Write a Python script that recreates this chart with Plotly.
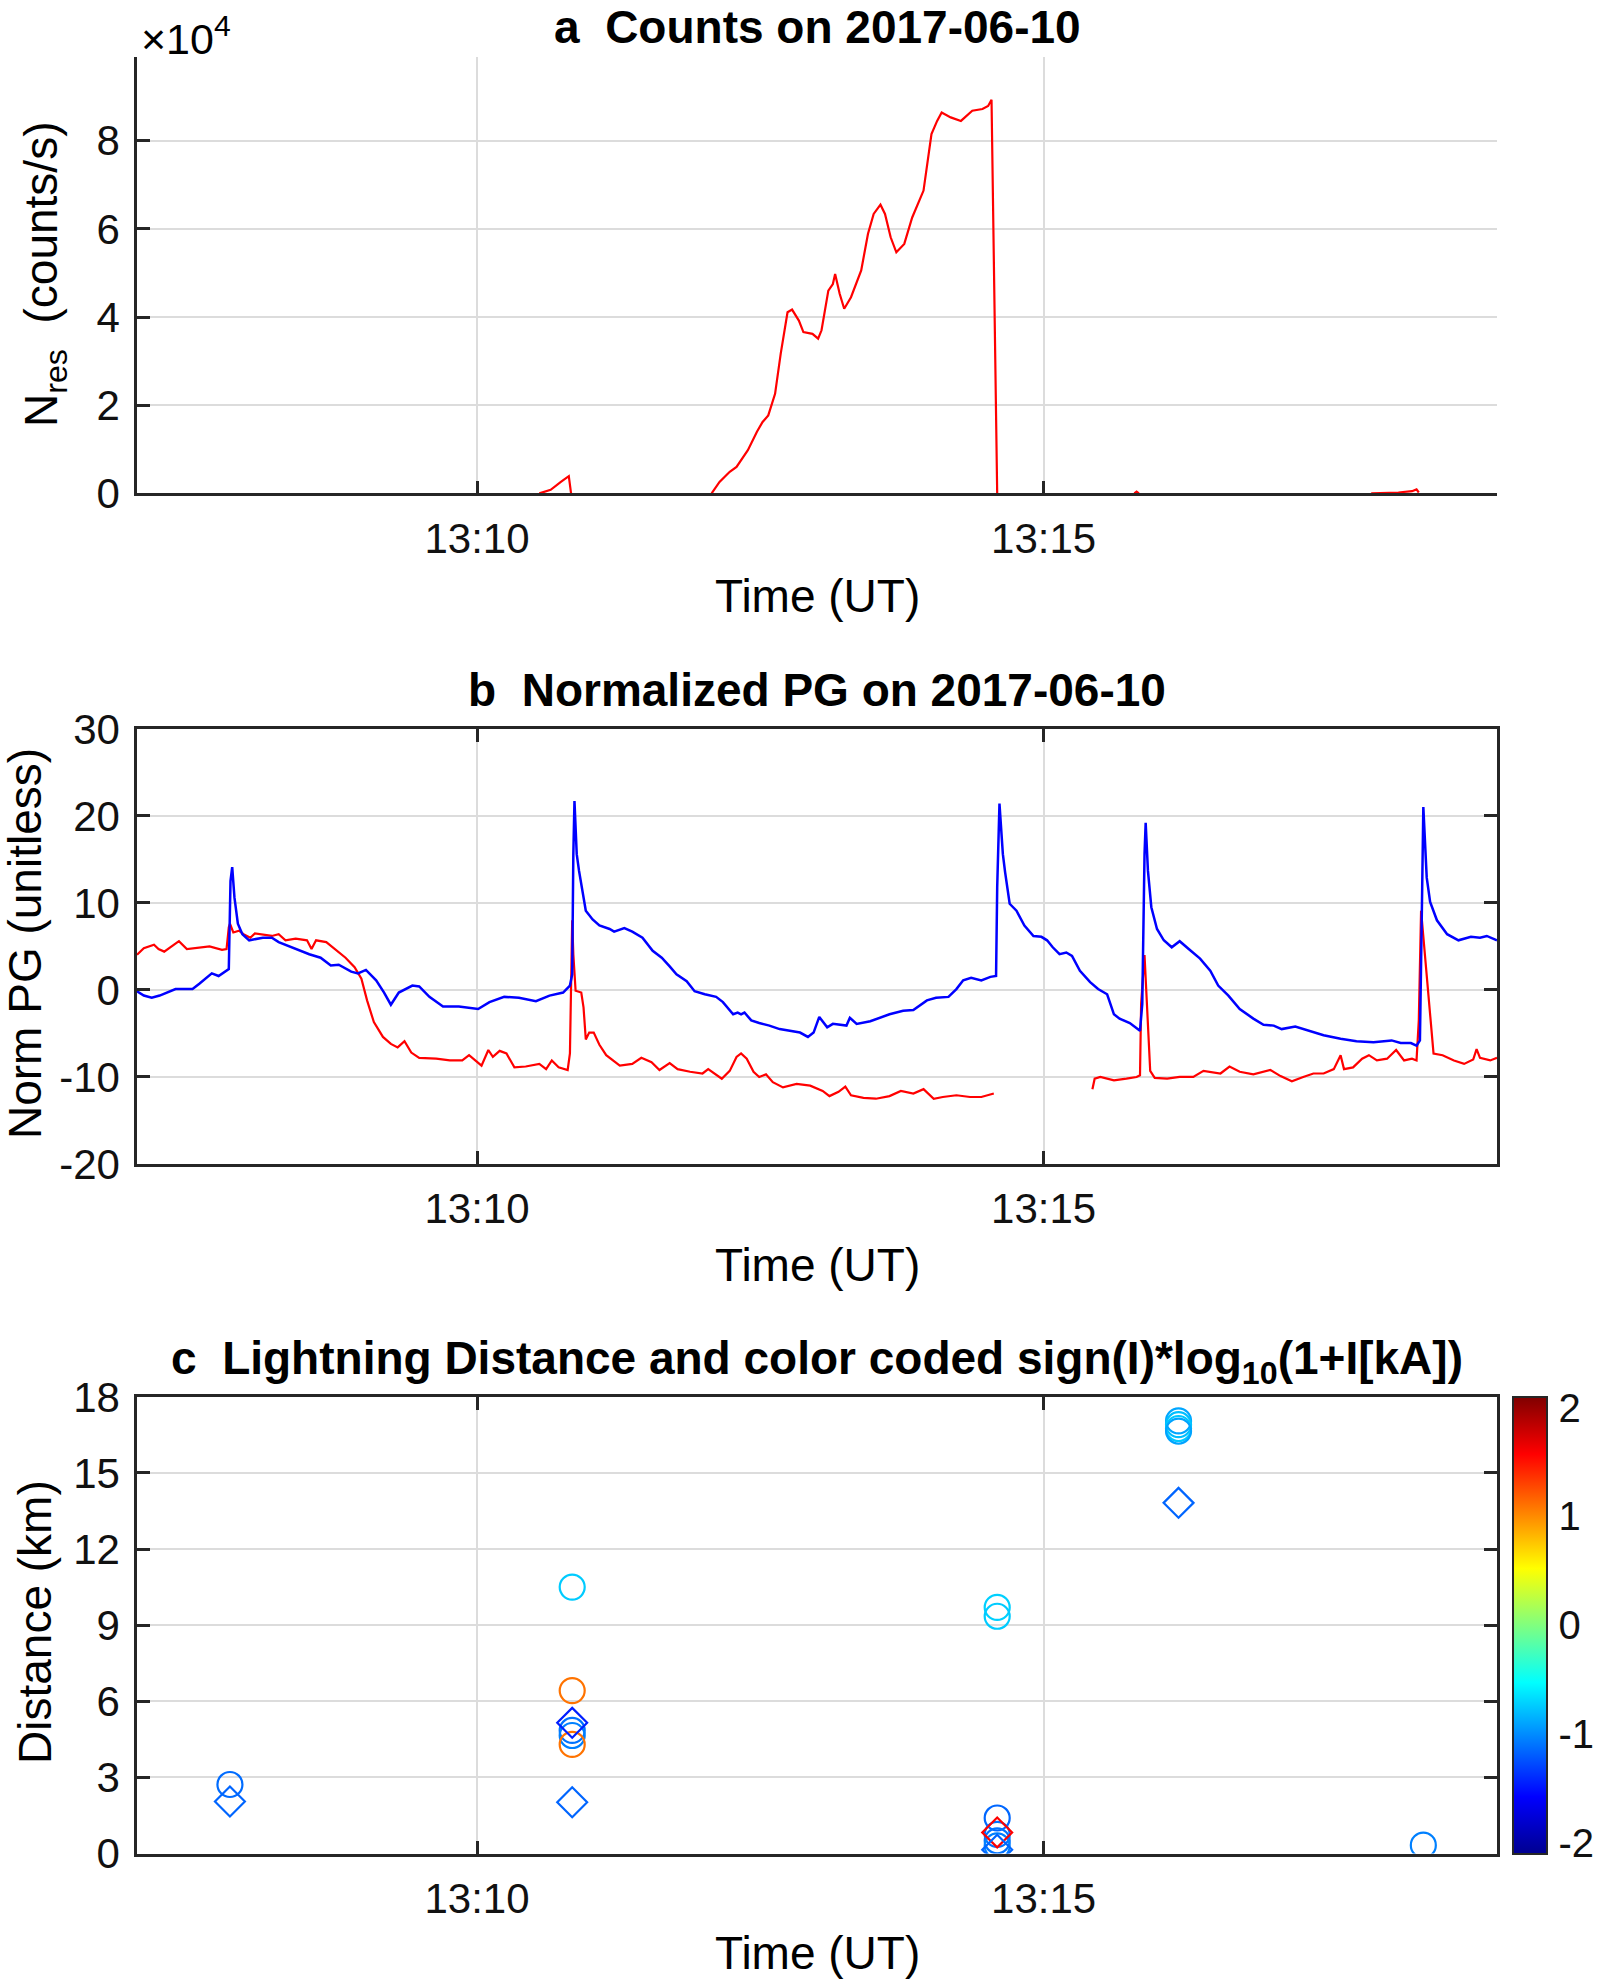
import pandas as pd
import plotly.graph_objects as go

# ---------------- data ----------------
BASE = pd.Timestamp("2017-06-10 13:07:00")

# Panel a: counts (minutes after 13:07:00, counts/s); None = gap
a_min = [3.55, 3.65, 3.74, 3.81, 3.83, None,
         5.07, 5.14, 5.23, 5.29, 5.39, 5.47, 5.52, 5.57, 5.63, 5.68, 5.74, 5.78,
         5.84, 5.88, 5.96, 6.01, 6.04, 6.10, 6.14, 6.16, 6.20, 6.24, 6.30, 6.39,
         6.45, 6.50, 6.56, 6.60, 6.65, 6.70, 6.77, 6.84, 6.94, 7.01, 7.06, 7.10,
         7.18, 7.27, 7.37, 7.46, 7.51, 7.54, 7.59, None,
         8.80, 8.82, 8.84, None,
         10.89, 11.13, 11.25, 11.29, 11.31]
a_counts = [0, 800, 2600, 3900, 0, None,
            0, 2600, 4900, 6000, 9800, 14000, 16200, 17700, 22600, 31700, 41100, 41700,
            39200, 36600, 36200, 35100, 37000, 46000, 47500, 49800, 45300, 41900, 44500, 50600,
            58900, 63400, 65500, 63400, 58100, 54700, 56600, 62600, 68700, 81500, 84500, 86400,
            85300, 84500, 86800, 87200, 87900, 89300, 0, None,
            0, 400, 0, None,
            0, 200, 500, 900, 200]

# Panel b: normalized PG, blue series
b_blue_min = [0.00, 0.06, 0.13, 0.20, 0.34, 0.49, 0.55, 0.66, 0.72, 0.80, 0.81, 0.825, 0.84, 0.86,
              0.89, 0.93, 0.99, 1.11, 1.19, 1.25, 1.37, 1.52, 1.62, 1.71, 1.78, 1.89, 1.95, 2.02,
              2.11, 2.18, 2.24, 2.31, 2.43, 2.49, 2.58, 2.70, 2.84, 3.01, 3.11, 3.24, 3.37, 3.52,
              3.64, 3.76, 3.82, 3.84, 3.85, 3.86, 3.88, 3.90, 3.96, 4.02, 4.08, 4.17, 4.21, 4.30,
              4.37, 4.46, 4.55, 4.63, 4.70, 4.76, 4.85, 4.92, 5.01, 5.11, 5.17, 5.26, 5.30, 5.33,
              5.36, 5.42, 5.49, 5.58, 5.67, 5.76, 5.85, 5.92, 5.97, 6.02, 6.09, 6.14, 6.26, 6.29,
              6.35, 6.47, 6.55, 6.64, 6.76, 6.85, 6.97, 7.05, 7.16, 7.23, 7.29, 7.36, 7.45, 7.53,
              7.58, 7.59, 7.61, 7.64, 7.66, 7.70, 7.76, 7.83, 7.91, 7.98, 8.03, 8.08, 8.14, 8.20,
              8.25, 8.32, 8.41, 8.48, 8.56, 8.62, 8.67, 8.76, 8.85, 8.87, 8.89, 8.90, 8.92, 8.95,
              9.00, 9.06, 9.13, 9.20, 9.28, 9.38, 9.47, 9.54, 9.63, 9.73, 9.85, 9.94, 10.03, 10.10,
              10.22, 10.32, 10.47, 10.62, 10.76, 10.91, 11.07, 11.15, 11.24, 11.29, 11.32, 11.34,
              11.35, 11.38, 11.41, 11.47, 11.56, 11.66, 11.77, 11.85, 11.91, 12.00]
b_blue = [-0.15, -0.65, -0.9, -0.65, 0.1, 0.1, 0.7, 1.9, 1.6, 2.3, 2.4, 12.5, 14.1, 10.6,
          7.6, 6.4, 5.7, 6.0, 6.0, 5.5, 4.9, 4.1, 3.7, 2.8, 2.9, 2.1, 1.9, 2.3,
          1.1, -0.3, -1.7, -0.3, 0.5, 0.4, -0.8, -1.9, -1.9, -2.2, -1.4, -0.8, -0.9, -1.3,
          -0.65, -0.3, 0.5, 1.8, 15.6, 21.7, 15.6, 13.7, 9.1, 8.1, 7.4, 7.0, 6.7, 7.1,
          6.7, 6.0, 4.5, 3.7, 2.7, 1.8, 1.0, -0.15, -0.5, -0.8, -1.4, -2.8, -2.6, -2.8,
          -2.6, -3.5, -3.8, -4.1, -4.5, -4.7, -4.9, -5.4, -4.9, -3.1, -4.3, -3.9, -4.1, -3.2,
          -3.9, -3.6, -3.2, -2.8, -2.4, -2.3, -1.2, -0.9, -0.8, 0.1, 1.1, 1.4, 1.1, 1.5,
          1.6, 11.8, 21.4, 15.6, 13.5, 9.9, 9.1, 7.4, 6.2, 6.1, 5.7, 4.9, 4.1, 4.3,
          3.9, 2.2, 0.9, 0.1, -0.5, -2.8, -3.3, -3.8, -4.7, -1.6, 15.6, 19.2, 13.7, 9.5,
          7.0, 5.7, 4.9, 5.6, 4.7, 3.6, 2.2, 0.5, -0.65, -2.2, -3.3, -4.0, -4.1, -4.5,
          -4.2, -4.6, -5.2, -5.6, -5.9, -6.0, -5.8, -6.1, -6.1, -6.4, -5.8, 11.8,
          21.0, 12.9, 10.1, 8.0, 6.4, 5.7, 6.1, 6.0, 6.2, 5.7]

# Panel b: normalized PG, red series (None = data gap)
b_red_min = [0.00, 0.06, 0.15, 0.19, 0.24, 0.30, 0.37, 0.44, 0.55, 0.64, 0.75, 0.79, 0.81, 0.82,
             0.85, 0.90, 0.94, 1.00, 1.04, 1.10, 1.19, 1.25, 1.31, 1.40, 1.50, 1.54, 1.58, 1.67,
             1.75, 1.84, 1.92, 1.98, 2.03, 2.09, 2.17, 2.24, 2.30, 2.36, 2.42, 2.49, 2.64, 2.76,
             2.87, 2.93, 3.04, 3.10, 3.14, 3.20, 3.26, 3.33, 3.43, 3.55, 3.61, 3.66, 3.72, 3.80,
             3.82, 3.84, 3.85, 3.87, 3.92, 3.94, 3.96, 3.99, 4.03, 4.08, 4.14, 4.26, 4.37, 4.45,
             4.54, 4.61, 4.70, 4.77, 4.88, 4.99, 5.04, 5.16, 5.23, 5.29, 5.33, 5.38, 5.44, 5.49,
             5.55, 5.61, 5.70, 5.82, 5.94, 6.05, 6.11, 6.19, 6.25, 6.30, 6.41, 6.52, 6.64, 6.74,
             6.85, 6.94, 7.03, 7.11, 7.23, 7.35, 7.45, 7.56, None,
             8.43, 8.45, 8.50, 8.62, 8.73, 8.82, 8.85, 8.86, 8.89, 8.91, 8.94, 8.98, 9.09, 9.20,
             9.32, 9.41, 9.56, 9.64, 9.73, 9.85, 10.00, 10.09, 10.19, 10.29, 10.38, 10.47, 10.56,
             10.62, 10.65, 10.73, 10.81, 10.87, 10.94, 11.03, 11.11, 11.18, 11.25, 11.29, 11.31,
             11.33, 11.36, 11.40, 11.44, 11.52, 11.62, 11.71, 11.79, 11.82, 11.85, 11.94, 12.00]
b_red = [4.05, 4.8, 5.2, 4.7, 4.4, 5.0, 5.6, 4.7, 4.9, 5.0, 4.6, 4.7, 7.2, 7.6,
         6.6, 6.8, 6.4, 6.0, 6.5, 6.4, 6.2, 6.4, 5.7, 5.9, 5.7, 4.7, 5.7, 5.5,
         4.7, 3.7, 2.6, 1.3, -1.2, -3.7, -5.4, -6.2, -6.6, -5.9, -7.2, -7.8, -7.9, -8.1,
         -8.1, -7.5, -8.7, -6.9, -7.7, -7.0, -7.3, -8.9, -8.8, -8.5, -9.1, -8.1, -8.9, -9.2,
         -7.3, 8.0, 4.1, -0.1, -0.3, -2.0, -5.7, -4.9, -4.9, -6.3, -7.5, -8.7, -8.5, -7.8,
         -8.3, -9.2, -8.4, -9.1, -9.4, -9.6, -9.1, -10.2, -9.3, -7.7, -7.3, -7.9, -9.4, -10.0,
         -9.7, -10.6, -11.2, -10.8, -11.0, -11.6, -12.2, -11.7, -11.1, -12.1, -12.4, -12.5, -12.2, -11.6,
         -11.9, -11.4, -12.5, -12.3, -12.1, -12.3, -12.3, -11.9, None,
         -11.4, -10.2, -10.0, -10.4, -10.2, -10.0, -9.8, -1.6, 4.0, -1.6, -9.3, -10.1, -10.2, -10.0,
         -10.0, -9.3, -9.6, -8.8, -9.4, -9.7, -9.2, -9.9, -10.5, -10.0, -9.6, -9.6, -9.1,
         -7.5, -9.1, -8.9, -7.9, -7.5, -8.1, -7.9, -6.9, -8.1, -7.9, -8.1, -3.5,
         9.1, 4.5, -1.6, -7.3, -7.5, -8.1, -8.5, -8.0, -6.8, -7.8, -8.1, -7.8]

# Panel c: lightning strokes (minutes after 13:07, distance km, sign(I)*log10(1+|I|))
c_circ_min = [0.82, 3.84, 3.84, 3.84, 3.84, 3.84, 7.59, 7.59, 7.59, 7.59, 7.59, 7.59,
              9.19, 9.19, 9.19, 9.19, 11.35]
c_circ_km = [2.72, 10.5, 6.42, 4.85, 4.65, 4.3, 9.7, 9.35, 1.4, 0.75, 0.5, 0.3,
             17.05, 16.9, 16.75, 16.65, 0.33]
c_circ_val = [-1.13, -0.74, 1.1, -1.1, -1.05, 1.1, -0.72, -0.74, -1.15, -1.1, -1.1, -1.05,
              -0.89, -0.79, -0.75, -0.9, -1.05]
c_diam_min = [0.82, 3.84, 3.84, 7.59, 7.59, 9.19]
c_diam_km = [2.05, 5.15, 2.02, 0.83, 0.15, 13.82]
c_diam_val = [-1.16, -1.45, -1.16, 1.58, -1.16, -1.16]

x_ticks = ["13:10", "13:15"]

# ---------------- helpers ----------------
def to_time(mins):
    return [None if m is None else BASE + pd.Timedelta(minutes=m) for m in mins]

FONT = "Liberation Sans, Arial, Helvetica, sans-serif"
AX = "#262626"
GRID = "#dcdcdc"
W, H = 1598, 1984

jet = [[0.0, "rgb(0,0,143)"], [0.125, "rgb(0,0,255)"], [0.375, "rgb(0,255,255)"],
       [0.625, "rgb(255,255,0)"], [0.875, "rgb(255,0,0)"], [1.0, "rgb(128,0,0)"]]

x0, x1 = 137 / W, 1497 / W
def ydom(top_px, bot_px):
    return [1 - bot_px / H, 1 - top_px / H]

dom_a = ydom(57, 493.4)
dom_b = ydom(728.8, 1164)
dom_c = ydom(1396.8, 1853.5)

fig = go.Figure()
fig.add_trace(go.Scatter(x=to_time(a_min), y=a_counts, mode="lines",
                         line=dict(color="#ff0000", width=2.2), xaxis="x", yaxis="y",
                         connectgaps=False))
fig.add_trace(go.Scatter(x=to_time(b_red_min), y=b_red, mode="lines",
                         line=dict(color="#ff0000", width=2.2), xaxis="x2", yaxis="y2",
                         connectgaps=False))
fig.add_trace(go.Scatter(x=to_time(b_blue_min), y=b_blue, mode="lines",
                         line=dict(color="#0000ff", width=2.5), xaxis="x2", yaxis="y2"))
fig.add_trace(go.Scatter(x=to_time(c_circ_min), y=c_circ_km, mode="markers",
                         marker=dict(symbol="circle-open", size=25, color=c_circ_val,
                                     coloraxis="coloraxis", line=dict(width=2.2)),
                         xaxis="x3", yaxis="y3"))
fig.add_trace(go.Scatter(x=to_time(c_diam_min), y=c_diam_km, mode="markers",
                         marker=dict(symbol="diamond-open", size=23, color=c_diam_val,
                                     coloraxis="coloraxis", line=dict(width=2.2)),
                         xaxis="x3", yaxis="y3"))

tick_font = dict(family=FONT, size=42, color="#111111")
cb_font = dict(family=FONT, size=40, color="#111111")
t_lo = BASE
t_hi = BASE + pd.Timedelta(minutes=12)
tickvals_x = [pd.Timestamp("2017-06-10 " + s) for s in x_ticks]

def xaxis_cfg(anchor, mirror):
    return dict(domain=[x0, x1], anchor=anchor, type="date", range=[t_lo, t_hi],
                tickvals=tickvals_x, ticktext=x_ticks, showgrid=True, gridcolor=GRID,
                gridwidth=2, zeroline=False, showline=True, linecolor=AX, linewidth=2.5,
                ticks="inside", ticklen=13, tickwidth=2.5, tickcolor=AX, mirror=mirror,
                tickfont=tick_font, ticklabelstandoff=6, automargin=False)

def yaxis_cfg(anchor, dom, rng, tickvals, ticktext, mirror):
    return dict(domain=dom, anchor=anchor, range=rng, tickvals=tickvals, ticktext=ticktext,
                showgrid=True, gridcolor=GRID, gridwidth=2, zeroline=False, showline=True,
                linecolor=AX, linewidth=2.5, ticks="inside", ticklen=13, tickwidth=2.5,
                tickcolor=AX, mirror=mirror, tickfont=tick_font, ticklabelstandoff=6,
                automargin=False)

fig.update_layout(
    width=W, height=H, margin=dict(l=0, r=0, t=0, b=0),
    paper_bgcolor="white", plot_bgcolor="white", showlegend=False,
    font=dict(family=FONT, color="#111111"),
    xaxis=xaxis_cfg("y", False),
    yaxis=yaxis_cfg("x", dom_a, [0, 99000], [0, 20000, 40000, 60000, 80000],
                    ["0", "2", "4", "6", "8"], False),
    xaxis2=xaxis_cfg("y2", "ticks"),
    yaxis2=yaxis_cfg("x2", dom_b, [-20, 30], [-20, -10, 0, 10, 20, 30],
                     ["-20", "-10", "0", "10", "20", "30"], "ticks"),
    xaxis3=xaxis_cfg("y3", "ticks"),
    yaxis3=yaxis_cfg("x3", dom_c, [0, 18], [0, 3, 6, 9, 12, 15, 18],
                     ["0", "3", "6", "9", "12", "15", "18"], "ticks"),
    coloraxis=dict(colorscale=jet, cmin=-2.1, cmax=2.1,
                   colorbar=dict(x=1513 / W, xanchor="left", xref="paper",
                                 y=(dom_c[0] + dom_c[1]) / 2, yanchor="middle", yref="paper",
                                 len=dom_c[1] - dom_c[0], lenmode="fraction",
                                 thickness=34, thicknessmode="pixels", xpad=0, ypad=0,
                                 outlinewidth=2, outlinecolor=AX,
                                 tickvals=[-2, -1, 0, 1, 2], ticktext=["-2", "-1", "0", "1", "2"],
                                 ticks="outside", ticklen=3, tickwidth=1,
                                 tickcolor="rgba(0,0,0,0)",
                                 tickfont=cb_font)),
)

xc = (x0 + x1) / 2
def ann(text, x, y_px, size, angle=0, xanchor="center", bold=False):
    fig.add_annotation(text=("<b>%s</b>" % text) if bold else text, x=x, y=1 - y_px / H,
                       xref="paper", yref="paper", showarrow=False, textangle=angle,
                       xanchor=xanchor, yanchor="middle",
                       font=dict(family=FONT, size=size, color="#000000"))

ann("a\u00a0 Counts on 2017-06-10", xc, 27, 46, bold=True)
ann("b\u00a0 Normalized PG on 2017-06-10", xc, 690, 46, bold=True)
ann("c\u00a0 Lightning Distance and color coded sign(I)*log<sub>10</sub>(1+I[kA])", xc, 1361, 46, bold=True)
ann("Time (UT)", xc, 596, 46)
ann("Time (UT)", xc, 1265, 46)
ann("Time (UT)", xc, 1953, 46)
ann("N<sub>res</sub>\u00a0 (counts/s)", 44 / W, 275, 46, angle=-90)
ann("Norm PG (unitless)", 25 / W, 944, 46, angle=-90)
ann("Distance (km)", 35 / W, 1622, 46, angle=-90)
ann("\u00d710<sup>4</sup>", 139 / W, 36, 43, xanchor="left")

fig.write_html("out.html", config={"displayModeBar": False},
               post_script="document.body.style.margin='0';")
